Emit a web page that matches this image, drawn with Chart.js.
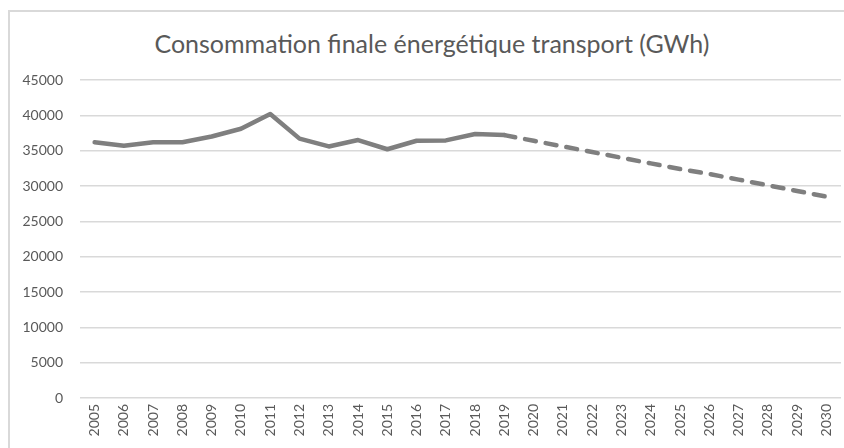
<!DOCTYPE html>
<html>
<head>
<meta charset="utf-8">
<script src="https://cdn.jsdelivr.net/npm/chart.js@4/dist/chart.umd.min.js"></script>
<style>
    html, body { margin: 0; padding: 0; background: #fff; }
    #wrap { position: relative; width: 844px; height: 448px; overflow: hidden; }
    #frame {
        position: absolute; left: 8px; top: 10px; width: 860px; height: 460px;
        border-top: 2px solid #d9d9d9; border-left: 2px solid #d9d9d9;
    }
    #title {
        position: absolute; left: 10px; width: 844px; top: 28px; text-align: center;
        font-family: Lato, "Open Sans", sans-serif; font-size: 25px; color: #595959;
    }
    canvas { position: absolute; left: 0; top: 0; }
</style>
</head>
<body>
<div id="wrap">
    <div id="frame"></div>
    <div id="title">Consommation finale énergétique transport (GWh)</div>
    <canvas id="chart" width="844" height="448"></canvas>
</div>
<script>
const years = ['2005','2006','2007','2008','2009','2010','2011','2012','2013','2014','2015','2016','2017',
    '2018','2019','2020','2021','2022','2023','2024','2025','2026','2027','2028','2029','2030'];

// historical values 2005-2019
const historique = [36200, 35700, 36200, 36200, 37000, 38100, 40200, 36700, 35600, 36500, 35200, 36400, 36450, 37350, 37200];

// projection 2019-2030 (dashed)
const projection = [37200, 36400, 35600, 34800, 34000, 33200, 32400, 31700, 30900, 30100, 29300, 28500];

const yTicks = [0, 5000, 10000, 15000, 20000, 25000, 30000, 35000, 40000, 45000];

const histData = years.map((y, i) => i < historique.length ? historique[i] : null);
const projData = years.map((y, i) => {
    const j = i - (historique.length - 1);
    return j >= 0 ? projection[j] : null;
});

const tickFont = { family: 'Lato, "Open Sans", sans-serif', size: 14 };

new Chart(document.getElementById('chart'), {
    type: 'line',
    data: {
        labels: years,
        datasets: [
            {
                data: histData,
                borderColor: '#7f7f7f',
                borderWidth: 4.5,
                pointRadius: 0,
                tension: 0,
                borderJoinStyle: 'round',
                borderCapStyle: 'round'
            },
            {
                data: projData,
                borderColor: '#7f7f7f',
                borderWidth: 4.5,
                borderDash: [11, 10],
                pointRadius: 0,
                tension: 0,
                borderCapStyle: 'round'
            }
        ]
    },
    options: {
        responsive: false,
        animation: false,
        layout: { padding: { top: 80, right: 3, bottom: 0, left: 0 } },
        plugins: {
            legend: { display: false },
            tooltip: { enabled: false },
            title: { display: false }
        },
        scales: {
            x: {
                offset: true,
                grid: { display: false, drawTicks: false },
                border: { display: false },
                ticks: {
                    color: '#595959', font: tickFont,
                    minRotation: 90, maxRotation: 90, padding: 6, autoSkip: false
                },
                afterFit(scale) {
                    scale.height = 50;
                    scale.paddingLeft = 0;
                    scale.paddingRight = 0;
                }
            },
            y: {
                min: 0, max: 45000,
                afterBuildTicks(scale) { scale.ticks = yTicks.map(v => ({ value: v })); },
                grid: { color: '#d9d9d9', lineWidth: 1.5, drawTicks: false },
                border: { display: false },
                ticks: { color: '#595959', font: tickFont, padding: 17, callback: v => String(v) },
                afterFit(scale) { scale.width = 80; }
            }
        }
    }
});
</script>
</body>
</html>
